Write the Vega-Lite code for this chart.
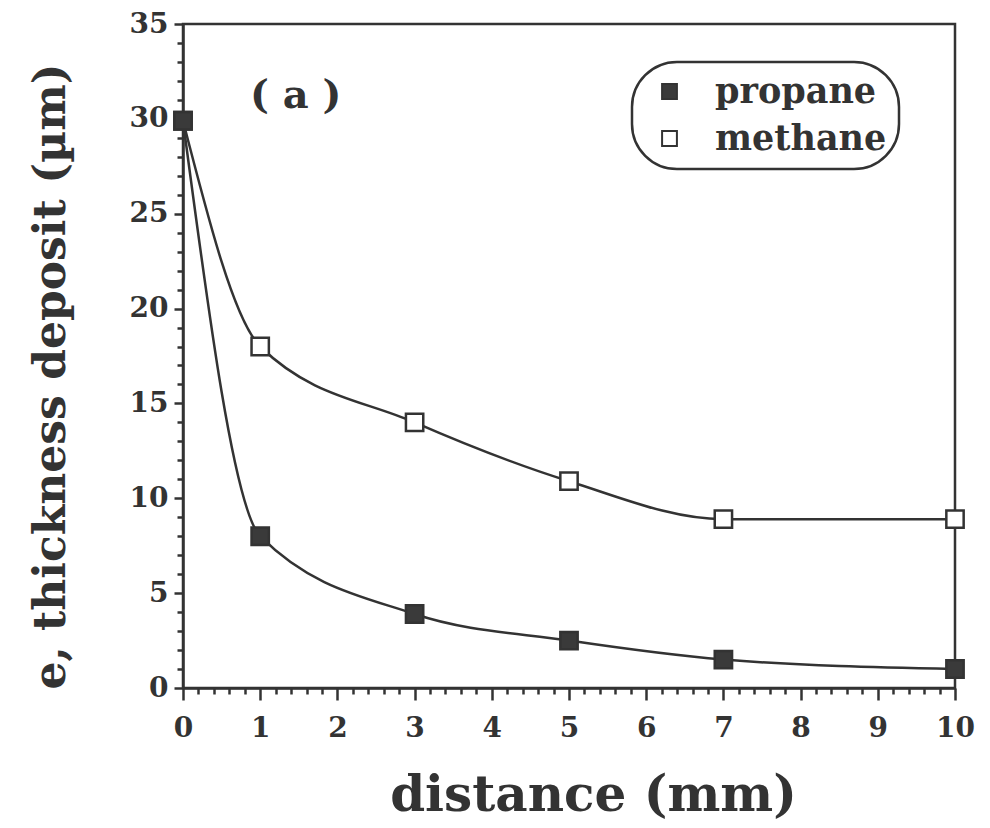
{
  "$schema": "https://vega.github.io/schema/vega-lite/v6.json",
  "width": 772,
  "height": 664,
  "autosize": {"type": "none"},
  "padding": {"left": 183, "top": 24, "right": 35, "bottom": 140},
  "background": "white",
  "config": {
    "view": {"stroke": "#333", "strokeWidth": 2.5},
    "font": "DejaVu Serif",
    "legend": {"strokeColor": "#333", "strokeWidth": 2.5, "cornerRadius": 45, "fillColor": "white"},
    "axis": {
      "grid": false,
      "domainColor": "#333",
      "domainWidth": 2.5,
      "tickColor": "#333",
      "tickWidth": 2.5,
      "labelFont": "DejaVu Serif",
      "labelFontWeight": "bold",
      "labelFontSize": 28,
      "labelColor": "#333",
      "titleFont": "DejaVu Serif",
      "titleFontWeight": "bold",
      "titleFontSize": 48,
      "titleColor": "#333",
      "labelOverlap": false,
      "labelFlush": false
    }
  },
  "datasets": {
    "series": [
      {"distance": 0, "thickness": 29.9, "gas": "methane"},
      {"distance": 1, "thickness": 18.0, "gas": "methane"},
      {"distance": 3, "thickness": 14.0, "gas": "methane"},
      {"distance": 5, "thickness": 10.9, "gas": "methane"},
      {"distance": 7, "thickness": 8.9, "gas": "methane"},
      {"distance": 10, "thickness": 8.9, "gas": "methane"},
      {"distance": 0, "thickness": 29.9, "gas": "propane"},
      {"distance": 1, "thickness": 8.0, "gas": "propane"},
      {"distance": 3, "thickness": 3.9, "gas": "propane"},
      {"distance": 5, "thickness": 2.5, "gas": "propane"},
      {"distance": 7, "thickness": 1.5, "gas": "propane"},
      {"distance": 10, "thickness": 1.0, "gas": "propane"}
    ],
    "annot": [
      {"distance": 1.46, "thickness": 31.2, "label": "( a )"}
    ]
  },
  "encoding": {
    "x": {
      "field": "distance",
      "type": "quantitative",
      "scale": {"domain": [0, 10], "nice": false},
      "axis": {
        "title": "distance (mm)",
        "titleFontSize": 50,
        "titlePadding": 28,
        "titleX": 410,
        "labelPadding": 14,
        "values": [0,0.2,0.4,0.6,0.8,1,1.2,1.4,1.6,1.8,2,2.2,2.4,2.6,2.8,3,3.2,3.4,3.6,3.8,4,4.2,4.4,4.6,4.8,5,5.2,5.4,5.6,5.8,6,6.2,6.4,6.6,6.8,7,7.2,7.4,7.6,7.8,8,8.2,8.4,8.6,8.8,9,9.2,9.4,9.6,9.8,10],
        "labelExpr": "datum.value % 1 === 0 ? format(datum.value, 'd') : ''",
        "tickSize": {"condition": {"test": "datum.value % 1 === 0", "value": 12}, "value": 6}
      }
    },
    "y": {
      "field": "thickness",
      "type": "quantitative",
      "scale": {"domain": [0, 35], "nice": false},
      "axis": {
        "title": "e, thickness deposit (µm)",
        "titleFontSize": 44,
        "titlePadding": 56,
        "titleY": 352,
        "labelPadding": 6,
        "values": [0,1,2,3,4,5,6,7,8,9,10,11,12,13,14,15,16,17,18,19,20,21,22,23,24,25,26,27,28,29,30,31,32,33,34,35],
        "labelExpr": "datum.value % 5 === 0 ? format(datum.value, 'd') : ''",
        "tickSize": {"condition": {"test": "datum.value % 5 === 0", "value": 9}, "value": 6}
      }
    }
  },
  "layer": [
    {
      "data": {"name": "series"},
      "mark": {"type": "line", "interpolate": "monotone", "stroke": "#333", "strokeWidth": 2.5},
      "encoding": {"detail": {"field": "gas"}}
    },
    {
      "data": {"name": "series"},
      "mark": {"type": "square", "size": 300, "stroke": "#333", "strokeWidth": 2.5, "opacity": 1, "fillOpacity": 1},
      "encoding": {
        "fill": {
          "field": "gas",
          "type": "nominal",
          "scale": {"domain": ["propane", "methane"], "range": ["#3a3a3a", "white"]},
          "legend": {
            "title": null,
            "orient": "none",
            "legendX": 449,
            "legendY": 38,
            "padding": 12,
            "symbolType": "square",
            "symbolSize": 220,
            "symbolOffset": 8,
            "symbolStrokeColor": "#333",
            "symbolStrokeWidth": 2,
            "symbolOpacity": 1,
            "labelFont": "DejaVu Serif",
            "labelFontWeight": "bold",
            "labelFontSize": 35,
            "labelColor": "#333",
            "labelLimit": 0,
            "labelOffset": 28,
            "rowPadding": 11
          }
        }
      }
    },
    {
      "data": {"name": "annot"},
      "mark": {"type": "text", "font": "DejaVu Serif", "fontWeight": "bold", "fontSize": 40, "color": "#333"},
      "encoding": {"text": {"field": "label"}}
    }
  ]
}
